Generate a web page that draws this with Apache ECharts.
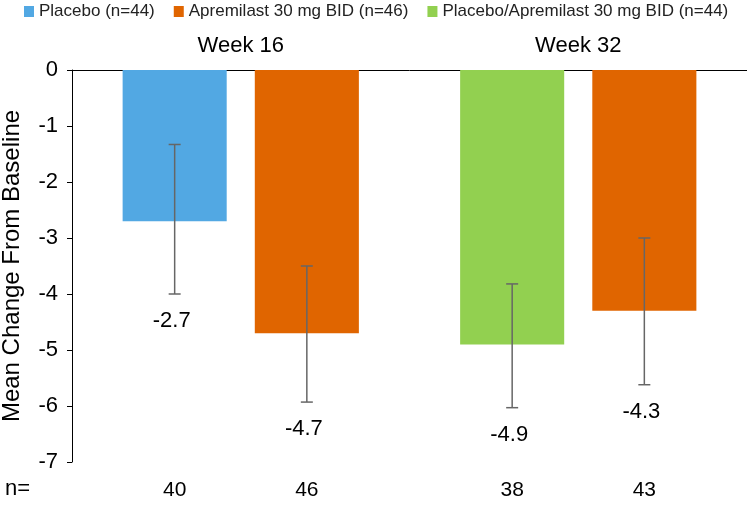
<!DOCTYPE html>
<html>
<head>
<meta charset="utf-8">
<script src="https://cdn.jsdelivr.net/npm/echarts@6/dist/echarts.min.js"></script>
<style>
html,body{margin:0;padding:0;background:#fff;}
#chart{width:747px;height:524px;}
</style>
</head>
<body>
<div id="chart"></div>
<script>
// ---- data ----
const categories = ['Week 16', 'Week 32'];
const seriesNames = ['Placebo (n=44)', 'Apremilast 30 mg BID (n=46)', 'Placebo/Apremilast 30 mg BID (n=44)'];
const placebo = [-2.7, '-'];
const apremilast = [-4.7, -4.3];
const placeboApremilast = ['-', -4.9];
// error bars, in display order (left to right)
const barCategory = [0, 0, 1, 1];
const barSlot = [0, 1, 0, 1];
const errUpper = [-1.33, -3.5, -3.82, -3.0];
const errLower = [-4.0, -5.93, -6.03, -5.62];
const valueLabels = ['-2.7', '-4.7', '-4.9', '-4.3'];
const nValues = ['40', '46', '38', '43'];
const yTicks = { min: -7, max: 0, interval: 1 };

// ---- style ----
const COLORS = ['#52A8E3', '#E06500', '#92D050'];
const CAT_GAP = 0.30, BAR_GAP = 0.27;
const FONT = 'Liberation Sans, Arial, Helvetica, sans-serif';

const errData = barCategory.map((c, i) => [c, barSlot[i], errLower[i], errUpper[i], valueLabels[i], nValues[i]]);

const chart = echarts.init(document.getElementById('chart'), null, { renderer: 'canvas' });
chart.setOption({
  animation: false,
  color: COLORS,
  textStyle: { fontFamily: FONT },
  legend: {
    data: seriesNames,
    top: -2, left: 19,
    icon: 'rect', itemWidth: 10, itemHeight: 11, itemGap: 19,
    textStyle: { fontSize: 17, color: '#222', fontFamily: FONT }
  },
  grid: { left: 72, right: 0, top: 70, bottom: 62, containLabel: false, outerBoundsMode: 'none' },
  xAxis: {
    type: 'category', data: categories, position: 'top',
    axisLine: { show: true, lineStyle: { color: '#000', width: 1 } },
    axisTick: { show: false },
    axisLabel: { fontSize: 22, color: '#000', margin: 13, fontFamily: FONT },
    splitLine: { show: false }
  },
  yAxis: {
    type: 'value', min: yTicks.min, max: yTicks.max, interval: yTicks.interval,
    name: 'Mean Change From Baseline', nameLocation: 'middle', nameGap: 48,
    nameTextStyle: { fontSize: 24, color: '#000', fontFamily: FONT },
    axisLine: { show: true, lineStyle: { color: '#000', width: 1 } },
    axisTick: { show: true, inside: false, length: 5, lineStyle: { color: '#000' } },
    axisLabel: { fontSize: 22, color: '#000', margin: 14, fontFamily: FONT },
    splitLine: { show: false }
  },
  series: [
    { name: seriesNames[0], type: 'bar', stack: 'left', data: placebo,
      barCategoryGap: (CAT_GAP * 100) + '%', barGap: (BAR_GAP * 100) + '%' },
    { name: seriesNames[1], type: 'bar', stack: 'right', data: apremilast,
      barCategoryGap: (CAT_GAP * 100) + '%', barGap: (BAR_GAP * 100) + '%' },
    { name: seriesNames[2], type: 'bar', stack: 'left', data: placeboApremilast,
      barCategoryGap: (CAT_GAP * 100) + '%', barGap: (BAR_GAP * 100) + '%' },
    {
      type: 'custom', data: errData, z: 10,
      encode: { x: 0, y: [2, 3] },
      renderItem: function (params, api) {
        const cat = api.value(0), slot = api.value(1);
        const lo = api.value(2), hi = api.value(3);
        const band = api.size([1, 0])[0];
        const barW = band * (1 - CAT_GAP) / (2 + BAR_GAP);
        const off = barW * (1 + BAR_GAP) / 2 * (slot === 0 ? -1 : 1);
        const pHi = api.coord([cat, hi]);
        const pLo = api.coord([cat, lo]);
        const x = pHi[0] + off;
        const cs = params.coordSys;
        const stroke = { stroke: '#666', lineWidth: 1.5 };
        return {
          type: 'group',
          children: [
            { type: 'line', shape: { x1: x, y1: pHi[1], x2: x, y2: pLo[1] }, style: stroke },
            { type: 'line', shape: { x1: x - 6, y1: pHi[1], x2: x + 6, y2: pHi[1] }, style: stroke },
            { type: 'line', shape: { x1: x - 6, y1: pLo[1], x2: x + 6, y2: pLo[1] }, style: stroke },
            { type: 'text', style: { text: api.value(4), x: x - 3, y: pLo[1] + 27,
              align: 'center', verticalAlign: 'middle', fontSize: 22, fill: '#000', fontFamily: FONT } },
            { type: 'text', style: { text: api.value(5), x: x, y: cs.y + cs.height + 28,
              align: 'center', verticalAlign: 'middle', fontSize: 21, fill: '#000', fontFamily: FONT } }
          ]
        };
      }
    }
  ],
  graphic: [
    { type: 'text', left: 5, top: 478,
      style: { text: 'n=', fontSize: 22, fill: '#000', fontFamily: FONT } }
  ]
});
</script>
</body>
</html>
